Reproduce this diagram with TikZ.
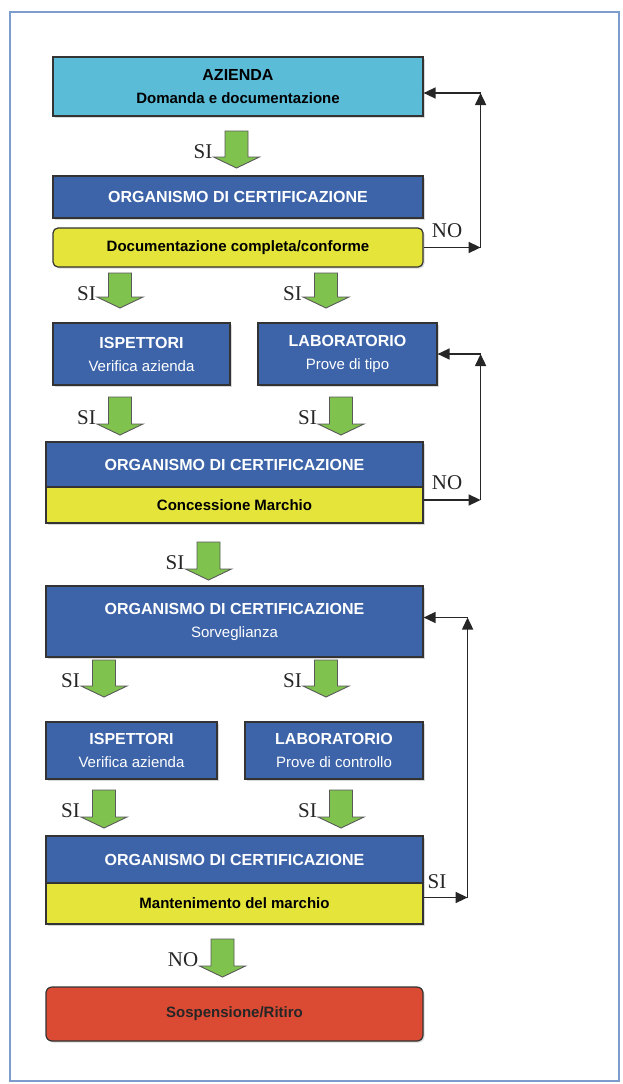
\documentclass[tikz,border=0pt]{standalone}
\usepackage{fontspec}
\setmainfont{Liberation Sans}
\newfontfamily\lblfont{Liberation Serif}
\usetikzlibrary{arrows.meta,shadows}
\definecolor{cCyan}{HTML}{5BBCD8}
\definecolor{cBlue}{HTML}{3D64A9}
\definecolor{cYellow}{HTML}{E4E43A}
\definecolor{cRed}{HTML}{DB4B34}
\definecolor{cGreen}{HTML}{7FC24E}
\definecolor{cFrame}{HTML}{7C9DCC}
\newcommand{\blockarr}[5]{%
  \filldraw[fill=cGreen, draw=black!65, line width=0.9pt]
    ({#2-11.5},#3) -- ({#2+11.5},#3) -- ({#2+11.5},{#4-11}) -- ({#2+23},{#4-11})
    -- (#2,#4) -- ({#2-23},{#4-11}) -- ({#2-11.5},{#4-11}) -- cycle;
  \node[lbl, anchor=east] (#1) at ({#2-24},{#3+21}) {#5};}
\begin{document}
\begin{tikzpicture}[x=1pt,y=-1pt,
  boxn/.style={draw=black!80, line width=1.2pt, inner sep=0pt, align=center,
    font=\fontsize{15}{23}\selectfont,
    drop shadow={shadow xshift=1.5pt, shadow yshift=-1.5pt, opacity=0.3}},
  blue/.style={boxn, fill=cBlue, text=white},
  cyanb/.style={boxn, fill=cCyan, text=black},
  yel/.style={boxn, fill=cYellow, text=black},
  redb/.style={boxn, fill=cRed, text=black!85},
  lbl/.style={inner sep=0pt, text=black!85, font=\lblfont\fontsize{21}{21}\selectfont},
  fb/.style={draw=black!85, line width=1.5pt, -{Triangle[length=12pt,width=11pt]}}]
\useasboundingbox (0,0) rectangle (622,1084);
\draw[cFrame, line width=2pt] (10,12) rectangle (619,1081);

% boxes
\node[cyanb, minimum width=370pt, minimum height=59pt] (az) at (238,86.5)
  {\textbf{\fontsize{16}{23}\selectfont AZIENDA}\\\textbf{Domanda e documentazione}};
\node[blue, minimum width=370pt, minimum height=42pt] (oc1) at (238,197)
  {\textbf{\fontsize{16}{23}\selectfont ORGANISMO DI CERTIFICAZIONE}};
\node[yel, rounded corners=5pt, minimum width=370pt, minimum height=39pt] (doc) at (238,247.5)
  {\textbf{Documentazione completa/conforme}};
\node[blue, minimum width=177pt, minimum height=62pt] (isp1) at (141.5,354)
  {\textbf{\fontsize{16}{23}\selectfont ISPETTORI}\\Verifica azienda};
\node[blue, minimum width=179pt, minimum height=62pt] (lab1) at (347.5,354)
  {\textbf{\fontsize{16}{23}\selectfont LABORATORIO}\\Prove di tipo};
\node[blue, minimum width=377pt, minimum height=45pt] (oc2) at (234.5,464.5)
  {\textbf{\fontsize{16}{23}\selectfont ORGANISMO DI CERTIFICAZIONE}};
\node[yel, minimum width=377pt, minimum height=36pt] (conc) at (234.5,505)
  {\textbf{Concessione Marchio}};
\node[blue, minimum width=377pt, minimum height=71pt] (oc3) at (234.5,621.5)
  {\textbf{\fontsize{16}{23}\selectfont ORGANISMO DI CERTIFICAZIONE}\\Sorveglianza};
\node[blue, minimum width=171pt, minimum height=57pt] (isp2) at (131.5,750.5)
  {\textbf{\fontsize{16}{23}\selectfont ISPETTORI}\\Verifica azienda};
\node[blue, minimum width=178pt, minimum height=57pt] (lab2) at (334,750.5)
  {\textbf{\fontsize{16}{23}\selectfont LABORATORIO}\\Prove di controllo};
\node[blue, minimum width=377pt, minimum height=47pt] (oc4) at (234.5,859.5)
  {\textbf{\fontsize{16}{23}\selectfont ORGANISMO DI CERTIFICAZIONE}};
\node[yel, minimum width=377pt, minimum height=41pt] (mant) at (234.5,903.5)
  {\textbf{Mantenimento del marchio}};
\node[redb, rounded corners=6pt, minimum width=377pt, minimum height=54pt] (rit) at (234.5,1014)
  {\textbf{Sospensione/Ritiro}};

% green block arrows
\blockarr{s1}{236.5}{131}{168}{SI}
\blockarr{s2}{120}{273}{308}{SI}
\blockarr{s3}{326}{273}{308}{SI}
\blockarr{s4}{120}{397}{435}{SI}
\blockarr{s5}{341}{397}{435}{SI}
\blockarr{s6}{208.5}{542}{580}{SI}
\blockarr{s7}{104}{660}{697}{SI}
\blockarr{s8}{326}{660}{697}{SI}
\blockarr{s9}{104}{790}{828}{SI}
\blockarr{s10}{341}{790}{828}{SI}
\blockarr{n1}{222.5}{939}{977}{NO}

% feedback loops
\coordinate (c1) at ([xshift=57pt]doc.east);
\coordinate (c2) at ([yshift=-6.5pt]c1 |- az.east);
\draw[fb] (doc.east) -- (c1);
\draw[fb] (c1) -- (c2);
\draw[fb] (c2) -- (c2 -| az.east);
\node[lbl] (lno1) at (447,231) {NO};

\coordinate (c3) at ([xshift=57pt,yshift=5pt]conc.east);
\coordinate (c4) at (c3 |- lab1.east);
\draw[fb] ([yshift=5pt]conc.east) -- (c3);
\draw[fb] (c3) -- (c4);
\draw[fb] (c4) -- (lab1.east);
\node[lbl] (lno2) at (447,483) {NO};

\coordinate (c5) at ([xshift=44pt,yshift=6pt]mant.east);
\coordinate (c6) at ([yshift=4pt]c5 |- oc3.east);
\draw[fb] ([yshift=6pt]mant.east) -- (c5);
\draw[fb] (c5) -- (c6);
\draw[fb] (c6) -- (c6 -| oc3.east);
\node[lbl] (lsi3) at (437,882) {SI};
\end{tikzpicture}
\end{document}
